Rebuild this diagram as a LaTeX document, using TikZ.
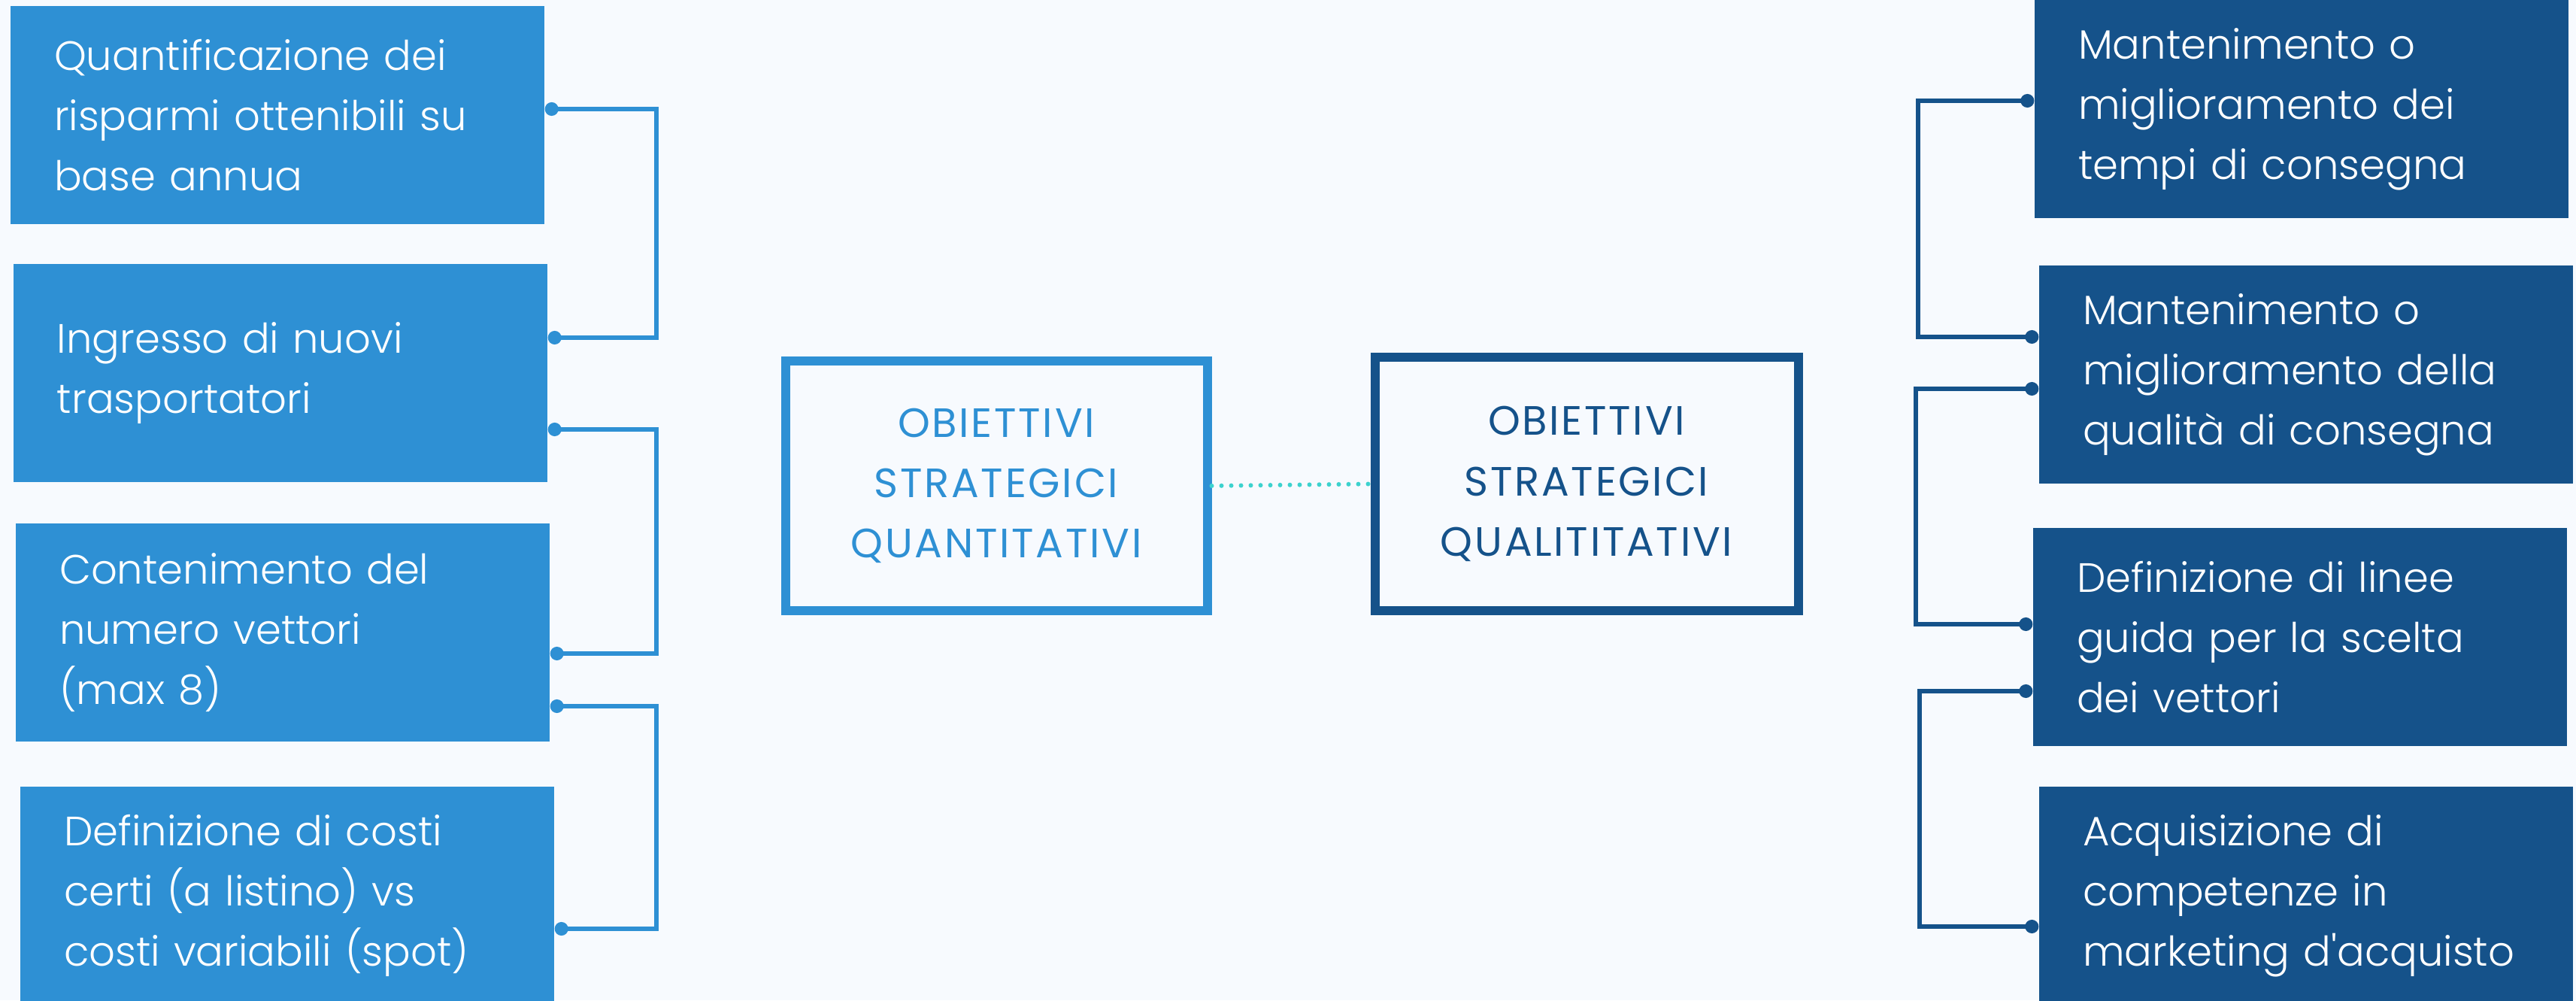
\documentclass[tikz,border=0pt]{standalone}
\usepackage{fontspec}
\setmainfont{Poppins}[UprightFont=* Light]
\newfontfamily\capsfont{Poppins}[LetterSpace=5]
\usetikzlibrary{arrows.meta}

\definecolor{bgcol}{HTML}{F7FAFE}
\definecolor{qblue}{HTML}{2E90D4}
\definecolor{sblue}{HTML}{15528A}
\definecolor{dotcol}{HTML}{3CD2CE}

\tikzset{
  goal/.style={rectangle, inner xsep=0.58cm, text width=5.94cm, minimum height=2.9cm,
    align=left, text=white, font=\fontsize{15.5}{22.8}\selectfont},
  quantbox/.style={goal, fill=qblue},
  qualbox/.style={goal, fill=sblue},
  frame/.style={rectangle, line width=0.12cm, fill=bgcol, align=center,
    font=\capsfont\fontsize{15.5}{22.8}\selectfont},
  lconn/.style={draw=qblue, line width=0.06cm, arrows={Circle[length=0.18cm]-Circle[length=0.18cm]}},
  rconn/.style={draw=sblue, line width=0.06cm, arrows={Circle[length=0.18cm]-Circle[length=0.18cm]}}
}

\begin{document}
\begin{tikzpicture}
 \fill[bgcol] (0,0) rectangle (34.26,13.30);
 \useasboundingbox (0,0) rectangle (34.26,13.30);

 % obiettivi quantitativi
 \node[quantbox] (L1) at (3.69,11.77) {Quantificazione dei\\risparmi ottenibili su\\base annua};
 \node[quantbox] (L2) at (3.73,8.34) {Ingresso di nuovi\\trasportatori};
 \node[quantbox] (L3) at (3.76,4.89) {Contenimento del\\numero vettori\\(max 8)};
 \node[quantbox] (L4) at (3.82,1.39) {Definizione di costi\\certi (a listino) vs\\costi variabili (spot)};

 % obiettivi qualitativi
 \node[qualbox] (R1) at (30.61,11.85) {Mantenimento o\\miglioramento dei\\tempi di consegna};
 \node[qualbox] (R2) at (30.67,8.32) {Mantenimento o\\miglioramento della\\qualità di consegna};
 \node[qualbox] (R3) at (30.59,4.83) {Definizione di linee\\guida per la scelta\\dei vettori};
 \node[qualbox] (R4) at (30.67,1.39) {Acquisizione di\\competenze in\\marketing d\textquotesingle acquisto};

 % i due riquadri centrali
 \node[frame, draw=qblue, text=qblue, minimum width=5.61cm, minimum height=3.32cm] (quant) at (13.25,6.84) {OBIETTIVI\\STRATEGICI\\QUANTITATIVI};
 \node[frame, draw=sblue, text=sblue, minimum width=5.63cm, minimum height=3.37cm] (qual) at (21.10,6.865) {OBIETTIVI\\STRATEGICI\\QUALITITATIVI};
 \draw[dotcol, line width=0.06cm, line cap=round, dash pattern=on 0pt off 0.13cm] (quant.east) -- (qual.west);

 % parentesi a sinistra
 \draw[lconn] ([yshift=0.08cm]L1.east) -- ++(1.48,0) |- ([yshift=0.47cm]L2.east);
 \draw[lconn] ([yshift=-0.75cm]L2.east) -- ++(1.44,0) |- ([yshift=-0.28cm]L3.east);
 \draw[lconn] ([yshift=-0.98cm]L3.east) -- ++(1.41,0) |- ([yshift=-0.44cm]L4.east);

 % parentesi a destra
 \draw[rconn] ([yshift=0.11cm]R1.west) -- ++(-1.54,0) |- ([yshift=0.50cm]R2.west);
 \draw[rconn] ([yshift=-0.19cm]R2.west) -- ++(-1.63,0) |- ([yshift=0.17cm]R3.west);
 \draw[rconn] ([yshift=-0.72cm]R3.west) -- ++(-1.50,0) |- ([yshift=-0.41cm]R4.west);
\end{tikzpicture}
\end{document}
